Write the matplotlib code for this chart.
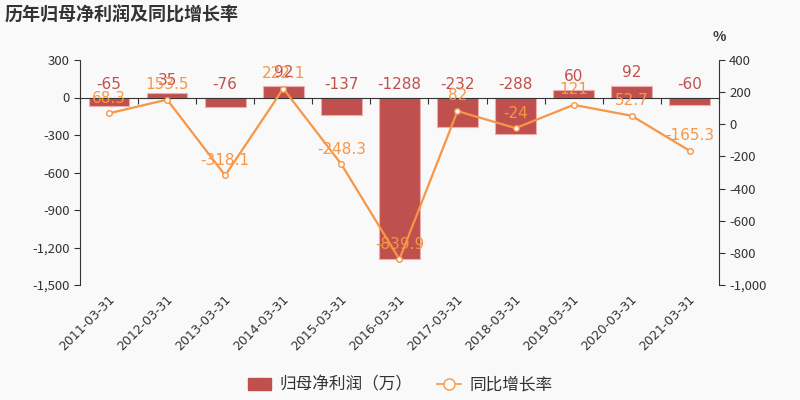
import matplotlib.pyplot as plt
import matplotlib.ticker as mticker
from matplotlib.lines import Line2D
from matplotlib.patches import Patch

plt.rcParams['font.family'] = ['Noto Sans CJK SC', 'DejaVu Sans']

# 数据
dates = ['2011-03-31', '2012-03-31', '2013-03-31', '2014-03-31', '2015-03-31',
         '2016-03-31', '2017-03-31', '2018-03-31', '2019-03-31', '2020-03-31',
         '2021-03-31']
profit = [-65, 35, -76, 92, -137, -1288, -232, -288, 60, 92, -60]
growth = [68.3, 153.5, -318.1, 222.1, -248.3, -839.9, 82, -24, 121, 52.7, -165.3]

bar_color = '#c0504d'
line_color = '#f79646'
bg = '#f9f9f9'
txt = '#333333'

fig = plt.figure(figsize=(8, 4), dpi=100, facecolor=bg)
ax = fig.add_axes([0.1, 0.2875, 0.7985, 0.5625], facecolor=bg)
ax2 = ax.twinx()

x = list(range(len(dates)))
ax.bar(x, profit, width=0.7, color=bar_color, edgecolor='#e8b0ae', linewidth=0.8, zorder=2)
ax.set_xlim(-0.5, len(dates) - 0.5)
ax.set_ylim(-1500, 300)
ax.set_yticks(range(-1500, 301, 300))
ax.yaxis.set_major_formatter(mticker.FuncFormatter(lambda v, p: f'{int(v):,}'))

# x 轴在 0 处
ax.spines['bottom'].set_position(('data', 0))
ax.set_xticks([i - 0.5 for i in range(len(dates) + 1)])
ax.set_xticklabels([])
for s in ['top', 'right']:
    ax.spines[s].set_visible(False)
for s in ['left', 'bottom']:
    ax.spines[s].set_color(txt)
ax.tick_params(axis='x', length=4, color=txt)
ax.tick_params(axis='y', length=4, color=txt, labelcolor=txt, labelsize=9.5)

for i, d in enumerate(dates):
    ax.text(i - 0.02, -0.035, d, transform=ax.get_xaxis_transform(), rotation=45,
            ha='right', va='top', rotation_mode='anchor', fontsize=9, color=txt,
            family='DejaVu Sans')

for i, v in enumerate(profit):
    ax.annotate(str(v), (i, max(v, 0)), xytext=(0, 4), textcoords='offset points',
                ha='center', va='bottom', fontsize=11, color=bar_color,
                family='DejaVu Sans', zorder=5)

ax2.plot(x, growth, color=line_color, linewidth=1.6, marker='o', markersize=4,
         markerfacecolor='white', markeredgecolor=line_color, zorder=4)
ax2.set_ylim(-1000, 400)
ax2.set_yticks(range(-1000, 401, 200))
ax2.yaxis.set_major_formatter(mticker.FuncFormatter(lambda v, p: f'{int(v):,}'))
for s in ['top', 'left', 'bottom']:
    ax2.spines[s].set_visible(False)
ax2.spines['right'].set_color(txt)
ax2.tick_params(axis='y', length=4, color=txt, labelcolor=txt, labelsize=9.5)
ax2.text(1.0, 1.07, '%', transform=ax2.transAxes, ha='center', va='bottom',
         fontsize=10, color=txt, fontweight='bold')

for i, v in enumerate(growth):
    ax2.annotate(f'{v:g}', (i, v), xytext=(0, 5.5), textcoords='offset points',
                 ha='center', va='bottom', fontsize=11, color=line_color,
                 family='DejaVu Sans', zorder=6)

ax.set_zorder(1)
ax2.set_zorder(2)
ax2.patch.set_visible(False)

fig.text(0.006, 0.962, '历年归母净利润及同比增长率', ha='left', va='center',
         fontsize=13, color=txt, fontweight='bold')

handles = [Patch(facecolor=bar_color, edgecolor=bar_color),
           Line2D([0], [0], color=line_color, marker='o', markersize=8,
                  markerfacecolor='white', linewidth=1.2)]
fig.legend(handles, ['归母净利润（万）', '同比增长率'], loc='center',
           bbox_to_anchor=(0.5, 0.037), ncol=2, frameon=False, fontsize=12,
           handlelength=1.4, handletextpad=0.5, columnspacing=1.5, labelcolor=txt)

fig.savefig('out.png', dpi=100, facecolor=bg)
